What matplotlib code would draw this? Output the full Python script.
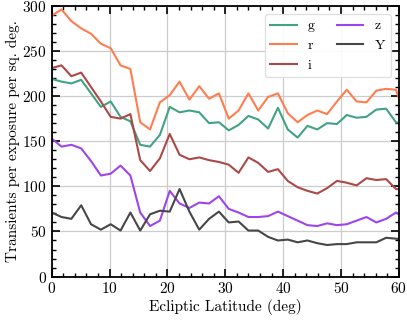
import numpy as np
import matplotlib
matplotlib.use("Agg")
import matplotlib.pyplot as plt
from matplotlib.ticker import MultipleLocator

# Ecliptic latitude bins (deg); the last bin runs past the axis limit
latitude = np.arange(37) * 1.7

g_rate = [219, 216, 214, 218, 203, 188, 194, 177, 172, 146, 144, 157, 188, 182, 184, 182,
          170, 171, 162, 168, 178, 174, 164, 187, 163, 154, 167, 163, 170, 169, 179, 176,
          177, 185, 186, 171, 169]
r_rate = [289, 296, 283, 275, 269, 258, 253, 234, 230, 171, 163, 193, 201, 216, 196, 211,
          197, 203, 175, 184, 203, 184, 199, 203, 181, 171, 179, 184, 180, 194, 207, 194,
          193, 206, 208, 207, 175]
i_rate = [231, 234, 222, 226, 210, 194, 177, 175, 180, 129, 117, 131, 158, 135, 130, 132,
          129, 127, 124, 115, 132, 126, 116, 119, 106, 99, 95, 92, 98, 106, 104, 101,
          109, 107, 108, 97, 96]
z_rate = [153, 144, 146, 142, 128, 112, 114, 123, 112, 71, 56, 62, 95, 81, 76, 82,
          81, 89, 75, 71, 66, 66, 67, 72, 67, 62, 57, 56, 59, 57, 58, 62,
          66, 60, 64, 71, 65]
y_rate = [71, 66, 64, 79, 58, 52, 58, 51, 71, 51, 69, 73, 72, 97, 72, 52,
          64, 72, 60, 61, 51, 51, 44, 40, 41, 38, 40, 37, 35, 36, 36, 38,
          38, 38, 43, 42, 41]

bands = ["g", "r", "i", "z", "Y"]
rates = [g_rate, r_rate, i_rate, z_rate, y_rate]
colors = ["#41a383", "#ff7d4f", "#ad4848", "#9d45ec", "#474747"]

plt.rcParams["font.family"] = "serif"
plt.rcParams["font.serif"] = ["cmr10"]
plt.rcParams["mathtext.fontset"] = "cm"
plt.rcParams["axes.formatter.use_mathtext"] = True

fig = plt.figure(figsize=(4.07, 3.22), dpi=100)
ax = fig.add_axes([0.127, 0.141, 0.853, 0.841])

for band, rate, color in zip(bands, rates, colors):
    ax.plot(latitude, rate, color=color, lw=1.5, label=band)

ax.set_xlim(0, 60)
ax.set_ylim(0, 300)
ax.xaxis.set_major_locator(MultipleLocator(10))
ax.xaxis.set_minor_locator(MultipleLocator(2))
ax.yaxis.set_major_locator(MultipleLocator(50))
ax.yaxis.set_minor_locator(MultipleLocator(10))
ax.tick_params(which="both", direction="in", top=True, right=True, labelsize=11)
ax.tick_params(which="major", length=6, width=1.2)
ax.tick_params(which="minor", length=3, width=1.0)
for spine in ax.spines.values():
    spine.set_linewidth(1.3)
ax.grid(True, which="major", color="#cccccc", lw=0.9)
ax.set_axisbelow(True)

ax.set_xlabel("Ecliptic Latitude (deg)", fontsize=11, labelpad=2)
ax.set_ylabel("Transients per exposure per sq. deg.", fontsize=11, labelpad=2)

leg = ax.legend(ncol=2, loc="upper right", fontsize=10, frameon=True, fancybox=True,
                edgecolor="#dddddd", framealpha=0.9, handlelength=1.9,
                handletextpad=0.8, columnspacing=1.6, borderaxespad=0.6)

fig.savefig("out.png", dpi=100)
